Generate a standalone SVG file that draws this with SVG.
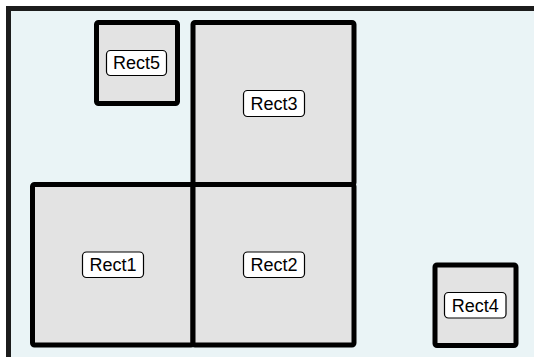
<svg xmlns="http://www.w3.org/2000/svg" width="534" height="357" viewBox="0 0 534 357">
<style>
.frame{fill:#eaf4f6;stroke:#1c1c1c;stroke-width:5}
.box{fill:#e3e3e3;stroke:#000;stroke-width:5;stroke-linejoin:round}
.lab{fill:#fff;stroke:#000;stroke-width:1.2}
.t{font-family:"Liberation Sans",Arial,sans-serif;font-size:18px;fill:#000;text-anchor:middle;dominant-baseline:central}
</style>
<rect class="frame" x="8.5" y="8.5" width="540" height="360"/>
<g id="Rect5"><rect class="box" x="96.5" y="22.5" width="81" height="81" rx="2"/><rect class="lab" x="106.5" y="50.5" width="60" height="25" rx="4"/><text class="t" x="136.5" y="63">Rect5</text></g>
<g id="Rect3"><rect class="box" x="193" y="22.5" width="161" height="162" rx="2"/><rect class="lab" x="243.5" y="90.5" width="61" height="26" rx="4"/><text class="t" x="274" y="103.5">Rect3</text></g>
<g id="Rect1"><rect class="box" x="32.5" y="184.5" width="160.5" height="160.5" rx="2"/><rect class="lab" x="82.5" y="252" width="61" height="25.5" rx="4"/><text class="t" x="113" y="265">Rect1</text></g>
<g id="Rect2"><rect class="box" x="193" y="184.5" width="161" height="160.5" rx="2"/><rect class="lab" x="243.5" y="252" width="61" height="25.5" rx="4"/><text class="t" x="274" y="265">Rect2</text></g>
<g id="Rect4"><rect class="box" x="435" y="265" width="81" height="80.5" rx="2"/><rect class="lab" x="444.5" y="292.5" width="61.5" height="25.5" rx="4"/><text class="t" x="475.3" y="305.5">Rect4</text></g>
<g id="connectors"/>
</svg>
